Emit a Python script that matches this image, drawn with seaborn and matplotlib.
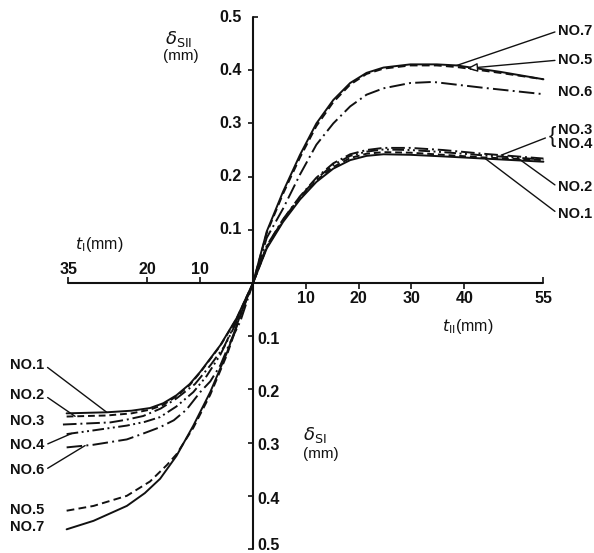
import numpy as np
import pandas as pd
import matplotlib
matplotlib.use("Agg")
import matplotlib.pyplot as plt
import seaborn as sns

# --- data -----------------------------------------------------------------
specimens = ["NO.1", "NO.2", "NO.3", "NO.4", "NO.5", "NO.6", "NO.7"]

# right half: delta_SII (mm) vs t_II (mm)
t2 = {
    "NO.1": [0, 2.6, 5.7, 8.9, 12.0, 15.2, 18.4, 21.5, 24.7, 29.8, 36.0, 43.6, 55],
    "NO.2": [0, 2.6, 5.7, 8.9, 12.0, 15.2, 18.4, 21.5, 24.7, 29.8, 36.0, 43.6, 55],
    "NO.3": [0, 2.6, 5.7, 8.9, 12.0, 15.2, 18.4, 21.5, 24.7, 29.8, 36.0, 43.6, 55],
    "NO.4": [0, 2.6, 5.7, 8.9, 12.0, 15.2, 18.4, 21.5, 24.7, 29.8, 36.0, 43.6, 55],
    "NO.5": [0, 2.6, 5.7, 8.9, 12.0, 15.2, 18.4, 21.5, 24.7, 29.8, 34.8, 38.6, 46.8, 55],
    "NO.6": [0, 2.6, 5.7, 8.9, 12.0, 15.2, 18.4, 21.5, 24.7, 29.8, 34.1, 43.6, 55],
    "NO.7": [0, 2.6, 5.7, 8.9, 12.0, 15.2, 18.4, 21.5, 24.7, 29.8, 34.8, 38.6, 46.8, 55],
}
d2 = {
    "NO.1": [0, 0.065, 0.115, 0.157, 0.190, 0.215, 0.231, 0.239, 0.242, 0.241, 0.238, 0.234, 0.228],
    "NO.2": [0, 0.067, 0.117, 0.159, 0.193, 0.218, 0.235, 0.243, 0.246, 0.245, 0.241, 0.236, 0.231],
    "NO.3": [0, 0.070, 0.120, 0.163, 0.198, 0.225, 0.242, 0.250, 0.254, 0.254, 0.250, 0.243, 0.234],
    "NO.4": [0, 0.069, 0.119, 0.162, 0.196, 0.222, 0.239, 0.247, 0.251, 0.250, 0.246, 0.240, 0.232],
    "NO.5": [0, 0.094, 0.168, 0.236, 0.295, 0.340, 0.373, 0.393, 0.403, 0.409, 0.409, 0.406, 0.395, 0.383],
    "NO.6": [0, 0.085, 0.140, 0.204, 0.260, 0.300, 0.332, 0.354, 0.366, 0.376, 0.378, 0.367, 0.355],
    "NO.7": [0, 0.097, 0.172, 0.241, 0.300, 0.344, 0.376, 0.395, 0.405, 0.411, 0.411, 0.409, 0.397, 0.383],
}

# left half: delta_SI (mm) vs t_I (mm), drawn downward / leftward
t1 = {
    "NO.1": [0, 3.1, 6.2, 10.0, 12.0, 14.5, 17.0, 19.5, 23.0, 27.7, 35.3],
    "NO.2": [0, 3.1, 6.2, 10.0, 12.0, 14.5, 17.0, 19.5, 23.0, 27.7, 35.3],
    "NO.3": [0, 3.1, 5.5, 8.1, 11.0, 14.5, 17.5, 20.8, 24.0, 27.0, 36.0],
    "NO.4": [0, 3.1, 6.2, 8.8, 11.3, 14.5, 17.6, 20.5, 23.9, 30.2, 35.3],
    "NO.5": [0, 2.4, 4.9, 8.1, 11.3, 14.5, 16.3, 19.5, 23.9, 30.2, 35.3],
    "NO.6": [0, 2.4, 4.5, 6.2, 8.1, 10.0, 12.6, 15.0, 17.6, 20.8, 23.9, 30.2, 35.3],
    "NO.7": [0, 2.4, 4.9, 8.1, 11.3, 14.5, 17.6, 20.5, 23.9, 30.2, 35.3],
}
d1 = {
    "NO.1": [0, 0.066, 0.117, 0.167, 0.190, 0.211, 0.226, 0.235, 0.240, 0.243, 0.245],
    "NO.2": [0, 0.067, 0.118, 0.168, 0.192, 0.213, 0.229, 0.238, 0.245, 0.249, 0.251],
    "NO.3": [0, 0.070, 0.120, 0.155, 0.190, 0.217, 0.236, 0.250, 0.257, 0.262, 0.266],
    "NO.4": [0, 0.073, 0.135, 0.175, 0.205, 0.232, 0.252, 0.261, 0.268, 0.277, 0.284],
    "NO.5": [0, 0.062, 0.134, 0.210, 0.272, 0.322, 0.342, 0.373, 0.400, 0.419, 0.428],
    "NO.6": [0, 0.072, 0.115, 0.155, 0.185, 0.205, 0.238, 0.258, 0.271, 0.283, 0.294, 0.304, 0.309],
    "NO.7": [0, 0.060, 0.130, 0.205, 0.268, 0.325, 0.368, 0.395, 0.419, 0.447, 0.463],
}

x_ticks_right = [10, 20, 30, 40, 55]
x_ticks_left = [10, 20, 35]
y_ticks = [0.1, 0.2, 0.3, 0.4, 0.5]

dash_map = {
    "NO.1": "",
    "NO.2": (3.5, 2),
    "NO.3": (7, 2, 1, 2),
    "NO.4": (6, 1.8, 1, 1.8, 1, 1.8),
    "NO.5": (4, 2.2),
    "NO.6": (8, 2.2, 1, 2.2),
    "NO.7": "",
}

# build one long table, left half mirrored to negative x / y
rows = []
for n in specimens:
    for t, d in zip(t1[n][::-1], d1[n][::-1]):
        rows.append((n, -t, -d))
    for t, d in zip(t2[n][1:], d2[n][1:]):
        rows.append((n, t, d))
df = pd.DataFrame(rows, columns=["no", "t", "d"])

sns.set_theme(style="white")
plt.rcParams["font.family"] = ["Liberation Sans", "DejaVu Sans"]
plt.rcParams["mathtext.fontset"] = "dejavusans"
ink = "#111111"

fig = plt.figure(figsize=(5.94, 5.53), dpi=100)
ax = fig.add_axes([0, 0, 1, 1])
ax.set_xlim(-47.92, 64.58)
ax.set_ylim(-0.5075, 0.532)
ax.axis("off")

sns.lineplot(data=df, x="t", y="d", hue="no", style="no",
             palette={n: ink for n in specimens}, dashes=dash_map,
             estimator=None, sort=False, legend=False, linewidth=1.4, ax=ax)

# hand drawn style axes through the origin
ax.plot([-x_ticks_left[-1], x_ticks_right[-1]], [0, 0], color=ink, lw=1.5)
ax.plot([0, 0], [-y_ticks[-1], y_ticks[-1]], color=ink, lw=1.5)
ax.vlines(x_ticks_right[:-1], -0.011, 0, color=ink, lw=1.2)
ax.vlines([x_ticks_right[-1]], 0, 0.012, color=ink, lw=1.2)
ax.vlines([-v for v in x_ticks_left], 0, 0.012, color=ink, lw=1.2)
ax.hlines(y_ticks[:-1], -1.0, 0, color=ink, lw=1.2)
ax.hlines([y_ticks[-1]], 0, 1.0, color=ink, lw=1.2)
ax.hlines([-v for v in y_ticks[:-1]], -1.0, 0, color=ink, lw=1.2)
ax.hlines([-y_ticks[-1]], -1.0, 0, color=ink, lw=1.2)

tk = dict(fontsize=11.5, fontweight="bold", color=ink)
for v in x_ticks_right:
    ax.text(v, -0.015, str(v), ha="center", va="top", **tk)
for v in x_ticks_left:
    ax.text(-v, 0.011, str(v), ha="center", va="bottom", **tk)
for v in y_ticks:
    ax.text(-2.1, v, f"{v:.1f}", ha="right", va="center", **tk)
    ax.text(0.8, -min(v + 0.006, 0.494), f"{v:.1f}", ha="left", va="center", **tk)

lb = dict(fontsize=11, color=ink)
ax.text(-16.7, 0.459, r"$\delta_{\mathrm{SII}}$", ha="left", va="center", fontsize=13, color=ink)
ax.text(-17.0, 0.426, "(mm)", ha="left", va="center", **lb)
ax.text(9.5, -0.286, r"$\delta_{\mathrm{SI}}$", ha="left", va="center", fontsize=13, color=ink)
ax.text(9.5, -0.322, "(mm)", ha="left", va="center", **lb)
ax.text(-33.7, 0.073, r"$t_{\mathrm{I}}$(mm)", ha="left", va="center", fontsize=11.5, color=ink)
ax.text(35.8, -0.081, r"$t_{\mathrm{II}}$(mm)", ha="left", va="center", fontsize=11.5, color=ink)

# specimen labels with leader lines to the curves
nl = dict(fontsize=10.5, fontweight="bold", color=ink, va="center")
line = dict(arrowstyle="-", color=ink, lw=1.0, shrinkA=0, shrinkB=0)


def on_right(n, t):
    return (t, float(np.interp(t, t2[n], d2[n])))


def on_left(n, t):
    return (-t, -float(np.interp(t, t1[n], d1[n])))


ax.annotate("NO.7", xy=on_right("NO.7", 38.6), xytext=(57.8, 0.474),
            ha="left", arrowprops=dict(line, relpos=(0, 0.5)), **nl)
ax.annotate("NO.5", xy=on_right("NO.5", 40.5), xytext=(57.8, 0.419),
            ha="left", arrowprops=dict(arrowstyle="-|>,head_length=0.6,head_width=0.25",
                                       color=ink, fc="white", lw=1.0, shrinkA=0, shrinkB=0,
                                       relpos=(0, 0.5)), **nl)
ax.text(57.8, 0.359, "NO.6", ha="left", **nl)
ax.text(57.8, 0.287, "NO.3", ha="left", **nl)
ax.text(57.8, 0.262, "NO.4", ha="left", **nl)
ax.annotate("{", xy=on_right("NO.3", 47.0), xytext=(56.0, 0.275),
            ha="left", va="center", fontsize=16, color=ink,
            arrowprops=dict(line, relpos=(0, 0.5)))
ax.annotate("NO.2", xy=on_right("NO.2", 50.4), xytext=(57.8, 0.180),
            ha="left", arrowprops=dict(line, relpos=(0, 0.5)), **nl)
ax.annotate("NO.1", xy=on_right("NO.1", 44.0), xytext=(57.8, 0.130),
            ha="left", arrowprops=dict(line, relpos=(0, 0.5)), **nl)

ax.annotate("NO.1", xy=on_left("NO.1", 27.7), xytext=(-46.0, -0.154),
            ha="left", arrowprops=dict(line, relpos=(1, 0.5)), **nl)
ax.annotate("NO.2", xy=on_left("NO.2", 33.7), xytext=(-46.0, -0.211),
            ha="left", arrowprops=dict(line, relpos=(1, 0.5)), **nl)
ax.text(-46.0, -0.259, "NO.3", ha="left", **nl)
ax.annotate("NO.4", xy=on_left("NO.4", 34.3), xytext=(-46.0, -0.305),
            ha="left", arrowprops=dict(line, relpos=(1, 0.5)), **nl)
ax.annotate("NO.6", xy=on_left("NO.6", 31.8), xytext=(-46.0, -0.352),
            ha="left", arrowprops=dict(line, relpos=(1, 0.5)), **nl)
ax.text(-46.0, -0.427, "NO.5", ha="left", **nl)
ax.text(-46.0, -0.459, "NO.7", ha="left", **nl)

fig.savefig("out.png", dpi=100, facecolor="white")
